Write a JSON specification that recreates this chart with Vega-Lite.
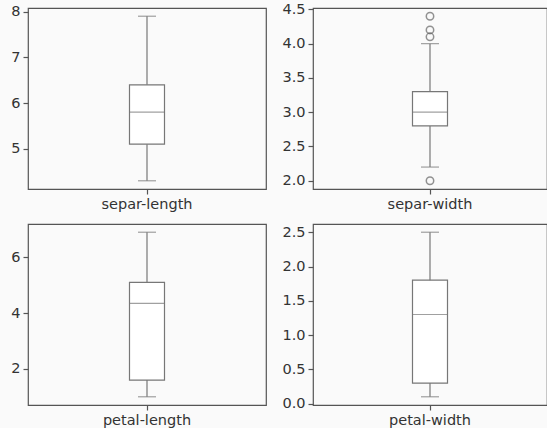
{
  "$schema": "https://vega.github.io/schema/vega-lite/v6.json",
  "background": "#fafafa",
  "padding": {"left": 10, "top": 0, "right": 0, "bottom": 0},
  "datasets": {
    "stats": [
      {"var": "separ-length", "lower": 4.3, "q1": 5.1, "median": 5.8, "q3": 6.4, "upper": 7.9},
      {"var": "separ-width", "lower": 2.2, "q1": 2.8, "median": 3.0, "q3": 3.3, "upper": 4.0},
      {"var": "petal-length", "lower": 1.0, "q1": 1.6, "median": 4.35, "q3": 5.1, "upper": 6.9},
      {"var": "petal-width", "lower": 0.1, "q1": 0.3, "median": 1.3, "q3": 1.8, "upper": 2.5}
    ],
    "outliers": [
      {"var": "separ-width", "value": 4.4},
      {"var": "separ-width", "value": 4.2},
      {"var": "separ-width", "value": 4.1},
      {"var": "separ-width", "value": 2.0}
    ]
  },
  "columns": 2,
  "align": "each",
  "spacing": {"row": 11, "column": 14},
  "resolve": {"scale": {"x": "independent", "y": "independent"}},
  "concat": [
    {
      "width": 238, "height": 181,
      "data": {"name": "stats"},
      "transform": [{"filter": "datum.var == 'separ-length'"}],
      "layer": [
        {"mark": {"type": "rule", "color": "#777", "strokeWidth": 1.2},
         "encoding": {
           "x": {"field": "var", "type": "nominal", "title": null, "scale": {"paddingInner": 0, "paddingOuter": 0}, "axis": {"labelAngle": 0, "ticks": true}},
           "y": {"field": "lower", "type": "quantitative", "title": null, "scale": {"domain": [4.12, 8.08], "nice": false, "zero": false}, "axis": {"values": [5, 6, 7, 8], "format": "d", "labelOverlap": false}}, "y2": {"field": "upper"}}},
        {"mark": {"type": "bar", "width": 35, "fill": "white", "stroke": "#777", "strokeWidth": 1.2},
         "encoding": {
           "x": {"field": "var", "type": "nominal", "title": null, "scale": {"paddingInner": 0, "paddingOuter": 0}, "axis": {"labelAngle": 0, "ticks": true}},
           "y": {"field": "q1", "type": "quantitative", "title": null, "scale": {"domain": [4.12, 8.08], "nice": false, "zero": false}, "axis": {"values": [5, 6, 7, 8], "format": "d", "labelOverlap": false}}, "y2": {"field": "q3"}}},
        {"mark": {"type": "tick", "size": 35, "color": "#777", "thickness": 1.2},
         "encoding": {
           "x": {"field": "var", "type": "nominal", "title": null, "scale": {"paddingInner": 0, "paddingOuter": 0}, "axis": {"labelAngle": 0, "ticks": true}},
           "y": {"field": "median", "type": "quantitative", "title": null, "scale": {"domain": [4.12, 8.08], "nice": false, "zero": false}, "axis": {"values": [5, 6, 7, 8], "format": "d", "labelOverlap": false}}}},
        {"mark": {"type": "tick", "size": 18, "color": "#777", "thickness": 1.2},
         "encoding": {
           "x": {"field": "var", "type": "nominal", "title": null, "scale": {"paddingInner": 0, "paddingOuter": 0}, "axis": {"labelAngle": 0, "ticks": true}},
           "y": {"field": "lower", "type": "quantitative", "title": null, "scale": {"domain": [4.12, 8.08], "nice": false, "zero": false}, "axis": {"values": [5, 6, 7, 8], "format": "d", "labelOverlap": false}}}},
        {"mark": {"type": "tick", "size": 18, "color": "#777", "thickness": 1.2},
         "encoding": {
           "x": {"field": "var", "type": "nominal", "title": null, "scale": {"paddingInner": 0, "paddingOuter": 0}, "axis": {"labelAngle": 0, "ticks": true}},
           "y": {"field": "upper", "type": "quantitative", "title": null, "scale": {"domain": [4.12, 8.08], "nice": false, "zero": false}, "axis": {"values": [5, 6, 7, 8], "format": "d", "labelOverlap": false}}}}
      ]
    },
    {
      "width": 234, "height": 181,
      "data": {"name": "stats"},
      "transform": [{"filter": "datum.var == 'separ-width'"}],
      "layer": [
        {"mark": {"type": "rule", "color": "#777", "strokeWidth": 1.2},
         "encoding": {
           "x": {"field": "var", "type": "nominal", "title": null, "scale": {"paddingInner": 0, "paddingOuter": 0}, "axis": {"labelAngle": 0, "ticks": true}},
           "y": {"field": "lower", "type": "quantitative", "title": null, "scale": {"domain": [1.88, 4.52], "nice": false, "zero": false}, "axis": {"values": [2, 2.5, 3, 3.5, 4, 4.5], "format": ".1f", "labelOverlap": false}}, "y2": {"field": "upper"}}},
        {"mark": {"type": "bar", "width": 35, "fill": "white", "stroke": "#777", "strokeWidth": 1.2},
         "encoding": {
           "x": {"field": "var", "type": "nominal", "title": null, "scale": {"paddingInner": 0, "paddingOuter": 0}, "axis": {"labelAngle": 0, "ticks": true}},
           "y": {"field": "q1", "type": "quantitative", "title": null, "scale": {"domain": [1.88, 4.52], "nice": false, "zero": false}, "axis": {"values": [2, 2.5, 3, 3.5, 4, 4.5], "format": ".1f", "labelOverlap": false}}, "y2": {"field": "q3"}}},
        {"mark": {"type": "tick", "size": 35, "color": "#777", "thickness": 1.2},
         "encoding": {
           "x": {"field": "var", "type": "nominal", "title": null, "scale": {"paddingInner": 0, "paddingOuter": 0}, "axis": {"labelAngle": 0, "ticks": true}},
           "y": {"field": "median", "type": "quantitative", "title": null, "scale": {"domain": [1.88, 4.52], "nice": false, "zero": false}, "axis": {"values": [2, 2.5, 3, 3.5, 4, 4.5], "format": ".1f", "labelOverlap": false}}}},
        {"mark": {"type": "tick", "size": 18, "color": "#777", "thickness": 1.2},
         "encoding": {
           "x": {"field": "var", "type": "nominal", "title": null, "scale": {"paddingInner": 0, "paddingOuter": 0}, "axis": {"labelAngle": 0, "ticks": true}},
           "y": {"field": "lower", "type": "quantitative", "title": null, "scale": {"domain": [1.88, 4.52], "nice": false, "zero": false}, "axis": {"values": [2, 2.5, 3, 3.5, 4, 4.5], "format": ".1f", "labelOverlap": false}}}},
        {"mark": {"type": "tick", "size": 18, "color": "#777", "thickness": 1.2},
         "encoding": {
           "x": {"field": "var", "type": "nominal", "title": null, "scale": {"paddingInner": 0, "paddingOuter": 0}, "axis": {"labelAngle": 0, "ticks": true}},
           "y": {"field": "upper", "type": "quantitative", "title": null, "scale": {"domain": [1.88, 4.52], "nice": false, "zero": false}, "axis": {"values": [2, 2.5, 3, 3.5, 4, 4.5], "format": ".1f", "labelOverlap": false}}}},
        {"data": {"name": "outliers"},
         "transform": [{"filter": "datum.var == 'separ-width'"}],
         "mark": {"type": "point", "shape": "circle", "size": 55, "filled": false, "color": "#666", "strokeWidth": 1.5},
         "encoding": {
           "x": {"field": "var", "type": "nominal", "title": null, "scale": {"paddingInner": 0, "paddingOuter": 0}, "axis": {"labelAngle": 0, "ticks": true}},
           "y": {"field": "value", "type": "quantitative", "title": null, "scale": {"domain": [1.88, 4.52], "nice": false, "zero": false}, "axis": {"values": [2, 2.5, 3, 3.5, 4, 4.5], "format": ".1f", "labelOverlap": false}}}}
      ]
    },
    {
      "width": 238, "height": 181,
      "data": {"name": "stats"},
      "transform": [{"filter": "datum.var == 'petal-length'"}],
      "layer": [
        {"mark": {"type": "rule", "color": "#777", "strokeWidth": 1.2},
         "encoding": {
           "x": {"field": "var", "type": "nominal", "title": null, "scale": {"paddingInner": 0, "paddingOuter": 0}, "axis": {"labelAngle": 0, "ticks": true}},
           "y": {"field": "lower", "type": "quantitative", "title": null, "scale": {"domain": [0.705, 7.195], "nice": false, "zero": false}, "axis": {"values": [2, 4, 6], "format": "d", "labelOverlap": false}}, "y2": {"field": "upper"}}},
        {"mark": {"type": "bar", "width": 35, "fill": "white", "stroke": "#777", "strokeWidth": 1.2},
         "encoding": {
           "x": {"field": "var", "type": "nominal", "title": null, "scale": {"paddingInner": 0, "paddingOuter": 0}, "axis": {"labelAngle": 0, "ticks": true}},
           "y": {"field": "q1", "type": "quantitative", "title": null, "scale": {"domain": [0.705, 7.195], "nice": false, "zero": false}, "axis": {"values": [2, 4, 6], "format": "d", "labelOverlap": false}}, "y2": {"field": "q3"}}},
        {"mark": {"type": "tick", "size": 35, "color": "#777", "thickness": 1.2},
         "encoding": {
           "x": {"field": "var", "type": "nominal", "title": null, "scale": {"paddingInner": 0, "paddingOuter": 0}, "axis": {"labelAngle": 0, "ticks": true}},
           "y": {"field": "median", "type": "quantitative", "title": null, "scale": {"domain": [0.705, 7.195], "nice": false, "zero": false}, "axis": {"values": [2, 4, 6], "format": "d", "labelOverlap": false}}}},
        {"mark": {"type": "tick", "size": 18, "color": "#777", "thickness": 1.2},
         "encoding": {
           "x": {"field": "var", "type": "nominal", "title": null, "scale": {"paddingInner": 0, "paddingOuter": 0}, "axis": {"labelAngle": 0, "ticks": true}},
           "y": {"field": "lower", "type": "quantitative", "title": null, "scale": {"domain": [0.705, 7.195], "nice": false, "zero": false}, "axis": {"values": [2, 4, 6], "format": "d", "labelOverlap": false}}}},
        {"mark": {"type": "tick", "size": 18, "color": "#777", "thickness": 1.2},
         "encoding": {
           "x": {"field": "var", "type": "nominal", "title": null, "scale": {"paddingInner": 0, "paddingOuter": 0}, "axis": {"labelAngle": 0, "ticks": true}},
           "y": {"field": "upper", "type": "quantitative", "title": null, "scale": {"domain": [0.705, 7.195], "nice": false, "zero": false}, "axis": {"values": [2, 4, 6], "format": "d", "labelOverlap": false}}}}
      ]
    },
    {
      "width": 234, "height": 181,
      "data": {"name": "stats"},
      "transform": [{"filter": "datum.var == 'petal-width'"}],
      "layer": [
        {"mark": {"type": "rule", "color": "#777", "strokeWidth": 1.2},
         "encoding": {
           "x": {"field": "var", "type": "nominal", "title": null, "scale": {"paddingInner": 0, "paddingOuter": 0}, "axis": {"labelAngle": 0, "ticks": true}},
           "y": {"field": "lower", "type": "quantitative", "title": null, "scale": {"domain": [-0.02, 2.62], "nice": false, "zero": false}, "axis": {"values": [0, 0.5, 1, 1.5, 2, 2.5], "format": ".1f", "labelOverlap": false}}, "y2": {"field": "upper"}}},
        {"mark": {"type": "bar", "width": 35, "fill": "white", "stroke": "#777", "strokeWidth": 1.2},
         "encoding": {
           "x": {"field": "var", "type": "nominal", "title": null, "scale": {"paddingInner": 0, "paddingOuter": 0}, "axis": {"labelAngle": 0, "ticks": true}},
           "y": {"field": "q1", "type": "quantitative", "title": null, "scale": {"domain": [-0.02, 2.62], "nice": false, "zero": false}, "axis": {"values": [0, 0.5, 1, 1.5, 2, 2.5], "format": ".1f", "labelOverlap": false}}, "y2": {"field": "q3"}}},
        {"mark": {"type": "tick", "size": 35, "color": "#777", "thickness": 1.2},
         "encoding": {
           "x": {"field": "var", "type": "nominal", "title": null, "scale": {"paddingInner": 0, "paddingOuter": 0}, "axis": {"labelAngle": 0, "ticks": true}},
           "y": {"field": "median", "type": "quantitative", "title": null, "scale": {"domain": [-0.02, 2.62], "nice": false, "zero": false}, "axis": {"values": [0, 0.5, 1, 1.5, 2, 2.5], "format": ".1f", "labelOverlap": false}}}},
        {"mark": {"type": "tick", "size": 18, "color": "#777", "thickness": 1.2},
         "encoding": {
           "x": {"field": "var", "type": "nominal", "title": null, "scale": {"paddingInner": 0, "paddingOuter": 0}, "axis": {"labelAngle": 0, "ticks": true}},
           "y": {"field": "lower", "type": "quantitative", "title": null, "scale": {"domain": [-0.02, 2.62], "nice": false, "zero": false}, "axis": {"values": [0, 0.5, 1, 1.5, 2, 2.5], "format": ".1f", "labelOverlap": false}}}},
        {"mark": {"type": "tick", "size": 18, "color": "#777", "thickness": 1.2},
         "encoding": {
           "x": {"field": "var", "type": "nominal", "title": null, "scale": {"paddingInner": 0, "paddingOuter": 0}, "axis": {"labelAngle": 0, "ticks": true}},
           "y": {"field": "upper", "type": "quantitative", "title": null, "scale": {"domain": [-0.02, 2.62], "nice": false, "zero": false}, "axis": {"values": [0, 0.5, 1, 1.5, 2, 2.5], "format": ".1f", "labelOverlap": false}}}}
      ]
    }
  ],
  "config": {
    "font": "DejaVu Sans",
    "view": {"stroke": "#555", "strokeWidth": 1.2, "fill": "#fafafa"},
    "axis": {"labelFont": "DejaVu Sans", "labelFontSize": 14.5, "labelColor": "#333", "tickColor": "#555", "tickSize": 5, "tickWidth": 1.2, "labelPadding": 3, "domain": false, "grid": false, "labelOverlap": false, "ticks": true}
  }
}
